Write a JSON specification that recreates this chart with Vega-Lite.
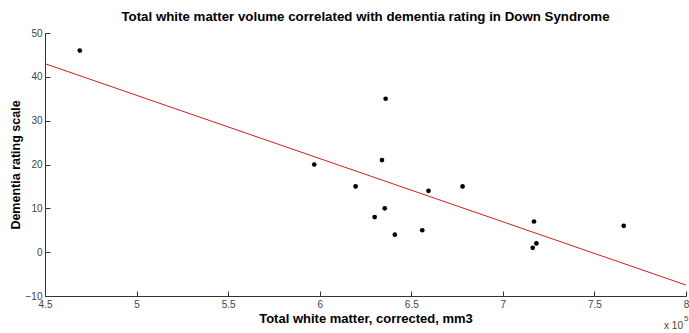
{
  "$schema": "https://vega.github.io/schema/vega-lite/v6.json",
  "autosize": "none",
  "width": 641,
  "height": 263,
  "padding": {"left": 45, "top": 33, "right": 3, "bottom": 37},
  "background": "white",
  "config": {
    "view": {"stroke": null},
    "font": "Liberation Sans"
  },
  "title": {
    "text": "Total white matter volume correlated with dementia rating in Down Syndrome",
    "anchor": "middle",
    "fontSize": 13.3,
    "fontWeight": "bold",
    "font": "Liberation Sans",
    "color": "#000",
    "offset": 5
  },
  "datasets": {
    "pts": [
      {"wm": 4.69, "dr": 46},
      {"wm": 5.97, "dr": 20},
      {"wm": 6.196, "dr": 15},
      {"wm": 6.34, "dr": 21},
      {"wm": 6.36, "dr": 35},
      {"wm": 6.355, "dr": 10},
      {"wm": 6.30, "dr": 8},
      {"wm": 6.41, "dr": 4},
      {"wm": 6.56, "dr": 5},
      {"wm": 6.594, "dr": 14},
      {"wm": 6.78, "dr": 15},
      {"wm": 7.17, "dr": 7},
      {"wm": 7.163, "dr": 1},
      {"wm": 7.183, "dr": 2},
      {"wm": 7.66, "dr": 6}
    ],
    "fit": [
      {"wm": 4.5, "dr": 43},
      {"wm": 8.0, "dr": -7.5}
    ],
    "note": [{"wm": 8, "dr": -10}]
  },
  "layer": [
    {
      "data": {"name": "fit"},
      "mark": {"type": "line", "color": "#cc2020", "strokeWidth": 1, "clip": true},
      "encoding": {
        "x": {
          "field": "wm", "type": "quantitative",
          "scale": {"domain": [4.5, 8], "nice": false, "zero": false},
          "axis": {
            "title": "Total white matter, corrected, mm3",
            "titleFontSize": 13, "titleFontWeight": "bold", "titleColor": "#000",
            "titlePadding": 3,
            "values": [4.5, 5, 5.5, 6, 6.5, 7, 7.5, 8],
            "format": "~g",
            "labelFontSize": 10, "labelColor": "#444", "labelPadding": 8,
            "tickSize": -5, "tickColor": "#333", "domainColor": "#333",
            "labelFlush": false, "grid": false
          }
        },
        "y": {
          "field": "dr", "type": "quantitative",
          "scale": {"domain": [-10, 50], "nice": false, "zero": false},
          "axis": {
            "title": "Dementia rating scale",
            "titleFontSize": 12.5, "titleFontWeight": "bold", "titleColor": "#000",
            "titlePadding": 3,
            "values": [-10, 0, 10, 20, 30, 40, 50],
            "labelFontSize": 10, "labelColor": "#444", "labelPadding": 8,
            "tickSize": -5, "tickColor": "#333", "domainColor": "#333",
            "grid": false
          }
        }
      }
    },
    {
      "data": {"name": "pts"},
      "mark": {"type": "circle", "color": "#000", "opacity": 1, "size": 22},
      "encoding": {
        "x": {"field": "wm", "type": "quantitative"},
        "y": {"field": "dr", "type": "quantitative"}
      }
    },
    {
      "data": {"name": "note"},
      "mark": {"type": "text", "text": "x 10", "fontSize": 10, "color": "#444", "align": "right", "baseline": "top", "dy": 25, "dx": -3},
      "encoding": {
        "x": {"field": "wm", "type": "quantitative"},
        "y": {"field": "dr", "type": "quantitative"}
      }
    },
    {
      "data": {"name": "note"},
      "mark": {"type": "text", "text": "5", "fontSize": 8, "color": "#444", "align": "left", "baseline": "top", "dy": 19, "dx": -2},
      "encoding": {
        "x": {"field": "wm", "type": "quantitative"},
        "y": {"field": "dr", "type": "quantitative"}
      }
    }
  ]
}
